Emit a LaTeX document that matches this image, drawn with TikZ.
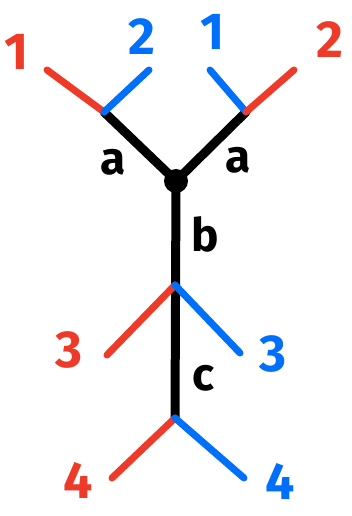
\documentclass[tikz,border=0pt]{standalone}
\usepackage{fontspec}
\setmainfont{Fira Sans}
\definecolor{myred}{RGB}{238,58,40}
\definecolor{myblue}{RGB}{0,112,250}
\begin{document}
\begin{tikzpicture}[x=1pt,y=-1pt,
  blk/.style={line width=9pt,black,line cap=round},
  red/.style={line width=7pt,myred,line cap=round},
  blu/.style={line width=7pt,myblue,line cap=round},
  lab/.style={font=\fontsize{46}{46}\selectfont\bfseries,inner sep=0pt},
  num/.style={font=\fontsize{52}{52}\selectfont\bfseries,inner sep=0pt}]
\useasboundingbox (0,0) rectangle (352,516);
% vertices
\coordinate (c0) at (176,181);
\coordinate (jl) at (104,112);
\coordinate (jr) at (246,112);
\coordinate (b1) at (175,285);
\coordinate (b2) at (175,418);
% leaf ends
\coordinate (l1) at (47,70);
\coordinate (l2) at (149,70);
\coordinate (r1) at (210,70);
\coordinate (r2) at (294,70);
\coordinate (e3l) at (107,355);
\coordinate (e3r) at (240,353);
\coordinate (e4l) at (112,478);
\coordinate (e4r) at (244,478);
% black edges
\draw[blk] (jl) -- (c0);
\draw[blk] (jr) -- (c0);
\draw[blk] (c0) -- (b2);
\fill (c0) circle (12pt);
% coloured edges
\draw[red] (l1) -- (jl);
\draw[blu] (jl) -- (l2);
\draw[blu] (r1) -- (jr);
\draw[red] (jr) -- (r2);
\draw[red] (b1) -- (e3l);
\draw[blu] (b1) -- (e3r);
\draw[red] (b2) -- (e4l);
\draw[blu] (b2) -- (e4r);
% labels
\node[num,myred] (t1) at (17,52) {1};
\node[num,myblue] (t2) at (142,37) {2};
\node[num,myblue] (t3) at (213,32) {1};
\node[num,myred] (t4) at (330,40) {2};
\node[lab] (ta) at (113,162) {a};
\node[lab] (tb) at (238,160) {a};
\node[lab] (tc) at (205,234) {b};
\node[num,myred] (t5) at (69,350) {3};
\node[num,myblue] (t6) at (273,354) {3};
\node[lab] (td) at (204,378) {c};
\node[num,myred] (t7) at (78,480) {4};
\node[num,myblue] (t8) at (280,481) {4};
\end{tikzpicture}
\end{document}
